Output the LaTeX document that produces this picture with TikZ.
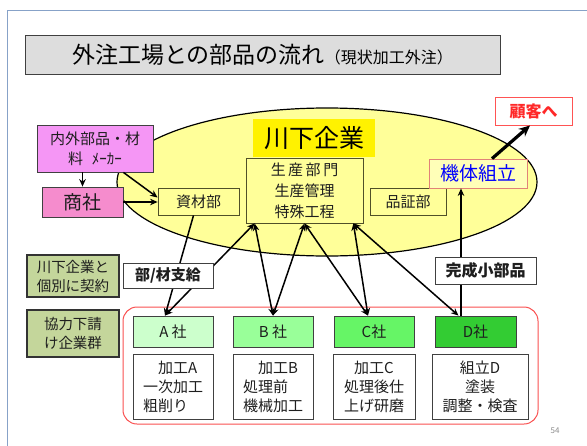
\documentclass[tikz,border=0pt]{standalone}
\usepackage{fontspec}
\setmainfont{Noto Sans CJK JP}
\usetikzlibrary{arrows.meta,calc,shapes.geometric}
\definecolor{frameblue}{RGB}{135,162,200}
\definecolor{titlefill}{RGB}{221,221,221}
\definecolor{ellfill}{RGB}{255,255,153}
\definecolor{inborder}{RGB}{80,80,40}
\definecolor{makerfill}{RGB}{245,150,245}
\definecolor{shoshafill}{RGB}{245,140,205}
\definecolor{olivefill}{RGB}{196,214,155}
\definecolor{redline}{RGB}{250,80,80}
\definecolor{custred}{RGB}{255,40,40}
\definecolor{kitaiborder}{RGB}{225,130,120}
\definecolor{gA}{RGB}{204,255,204}
\definecolor{gB}{RGB}{153,255,153}
\definecolor{gC}{RGB}{102,245,102}
\definecolor{gD}{RGB}{51,204,51}
\definecolor{txt}{RGB}{30,30,30}
\tikzset{
  box/.style={draw=black!75, line width=0.8pt, inner sep=0pt, align=center, text=txt},
  inbox/.style={box, draw=inborder, fill=ellfill},
  olivebox/.style={box, draw=black!80, line width=1.6pt, fill=olivefill, font=\fontsize{14.5pt}{19pt}\selectfont},
  labelbox/.style={box, fill=white, font=\bfseries\fontsize{15pt}{18pt}\selectfont},
  cobox/.style={box, minimum width=80pt, minimum height=31pt, font=\fontsize{15pt}{18pt}\selectfont},
  workbox/.style={box, fill=white, minimum height=65pt, font=\fontsize{15pt}{19pt}\selectfont},
  conn/.style={line width=1.5pt, -{Stealth[length=7.5pt,width=6.5pt]}},
  dconn/.style={line width=1.5pt, {Stealth[length=7.5pt,width=6.5pt]}-{Stealth[length=7.5pt,width=6.5pt]}},
}
\begin{document}
\begin{tikzpicture}[x=1pt,y=-1pt]
\useasboundingbox (0,0) rectangle (587,445);
\clip (0,0) rectangle (587,445);
\fill[white] (0,0) rectangle (587,445);
% outer frame
\draw[frameblue, line width=1.5pt] (7.5,10.5) rectangle (620,480);
% title
\node[draw=black!75, line width=1pt, fill=titlefill, minimum width=475pt, minimum height=39pt, inner sep=0pt] (title) at (262.5,54.5)
  {{\fontsize{23pt}{28pt}\selectfont 外注工場との部品の流れ}{\fontsize{16pt}{18pt}\selectfont（現状加工外注）}};
% customer
\node[draw=custred!80, line width=1pt, fill=white, minimum width=77pt, minimum height=28pt, inner sep=0pt, text=custred, font=\bfseries\fontsize{16pt}{18pt}\selectfont] (cust) at (533.5,111) {顧客へ};
% ellipse
\node[draw=black, line width=1.2pt, fill=ellfill, ellipse, minimum width=420pt, minimum height=148pt, inner sep=0pt] (corp) at (327,182) {};
\node[fill=yellow, minimum width=122pt, minimum height=38pt, inner sep=0pt, font=\fontsize{25pt}{28pt}\selectfont] (kawa) at (314,138) {川下企業};
\node[inbox, minimum width=117pt, minimum height=65pt, font=\fontsize{15pt}{21pt}\selectfont] (sei) at (304.5,190.5) {生\,産\,部\,門\\生産管理\\特殊工程};
\node[inbox, minimum width=81pt, minimum height=27pt, font=\fontsize{15pt}{18pt}\selectfont] (shizai) at (198.5,201.5) {資材部};
\node[inbox, minimum width=76pt, minimum height=27pt, font=\fontsize{15pt}{18pt}\selectfont] (hinsho) at (408,201.5) {品証部};
\node[box, draw=kitaiborder, fill=ellfill!70, minimum width=98pt, minimum height=29pt, text=blue, font=\fontsize{19pt}{22pt}\selectfont] (kitai) at (478,173.5) {機体組立};
% left boxes
\node[box, fill=makerfill, minimum width=116pt, minimum height=47pt, font=\fontsize{15pt}{20pt}\selectfont] (maker) at (95,148.5) {内外部品・材\\料\hspace{0.6em}ﾒｰｶｰ};
\node[box, fill=shoshafill, minimum width=81pt, minimum height=30pt, font=\fontsize{19pt}{22pt}\selectfont] (shosha) at (82.5,202) {商社};
\node[olivebox, minimum width=92pt, minimum height=42pt] (keiyaku) at (73,276) {川下企業と\\個別に契約};
\node[olivebox, minimum width=92pt, minimum height=47pt] (kyoryoku) at (73,333.5) {協力下請\\け企業群};
% subcontractor group
\node[draw=redline, line width=1pt, rounded corners=14pt, minimum width=415pt, minimum height=117pt, inner sep=0pt] (group) at (330.5,365.5) {};
\node[cobox, fill=gA] (A) at (173,331.5) {A 社};
\node[cobox, fill=gB] (B) at (273,331.5) {B 社};
\node[cobox, fill=gC] (C) at (374,331.5) {C社};
\node[cobox, fill=gD, minimum width=81pt] (D) at (475.5,331.5) {D社};
\node[workbox, minimum width=80pt, align=left] (A2) at (173,386.5) {\hspace{1em}加工A\\一次加工\\粗削り};
\node[workbox, minimum width=80pt, align=left] (B2) at (273,386.5) {\hspace{1em}加工B\\処理前\\機械加工};
\node[workbox, minimum width=82pt] (C2) at (374,386.5) {加工C\\処理後仕\\上げ研磨};
\node[workbox, minimum width=96pt] (D2) at (480,386.5) {組立D\\塗装\\調整・検査};
% connectors
\draw[conn] (maker.south -| shosha.north) -- (shosha.north);
\draw[conn] ([xshift=-30pt]maker.south east) -- ([yshift=4pt]shizai.west);
\draw[conn] (shosha.east) -- (shosha.east -| shizai.west);
\coordinate (seiL) at ([xshift=9pt]sei.south west);
\coordinate (seiM) at (sei.south);
\coordinate (seiR) at ([xshift=-10pt]sei.south east);
\coordinate (atop) at ([xshift=-8pt]A.north);
\coordinate (ctop) at ([xshift=-6pt]C.north);
\coordinate (dtop) at ([xshift=-17pt]D.north);
\coordinate (dtop2) at ([xshift=-14.5pt]D.north);
\draw[conn] ([xshift=-5pt]shizai.south) -- (atop);
\draw[dconn] (seiL) -- (atop);
\draw[dconn] (seiL) -- (B.north);
\draw[dconn] (seiM) -- (B.north);
\draw[dconn] (seiM) -- (ctop);
\draw[dconn] (seiR) -- (ctop);
\draw[dconn] (seiR) -- (dtop);
\draw[conn] (dtop2) -- (dtop2 |- kitai.south);
\draw[line width=3.2pt, -{Stealth[length=11pt,width=10pt]}] ([xshift=14pt]kitai.north) -- ([xshift=-3.5pt]cust.south);
% labels over lines
\node[labelbox, minimum width=90pt, minimum height=25pt] (shikyu) at (168,275.5) {部/材支給};
\node[labelbox, minimum width=101pt, minimum height=27pt, font=\bfseries\fontsize{16pt}{18pt}\selectfont] (kansei) at (485.5,270.5) {完成小部品};
% page number
\node[text=black!45, font=\fontsize{8pt}{9pt}\selectfont, inner sep=0pt] (pg) at (555,431) {54};
\end{tikzpicture}
\end{document}
